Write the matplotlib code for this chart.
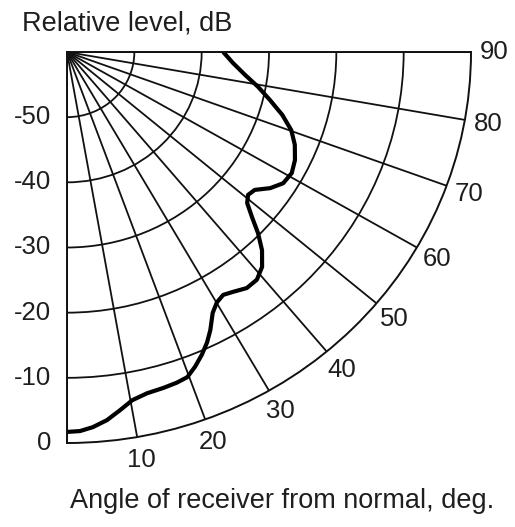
import numpy as np
import matplotlib.pyplot as plt

plt.rcParams['font.family'] = ['Liberation Sans', 'DejaVu Sans']

# curve: angle from normal (deg) and relative level (dB)
angle_deg = [0, 1.9, 3.8, 6.0, 8.2, 10.3, 12.8, 15.5, 17.8, 19.7, 21.5, 23.3,
             25.0, 26.5, 28.4, 30.1, 31.9, 33.8, 36.4, 38.9, 41.3, 43.6, 45.6,
             47.3, 49.1, 50.8, 52.8, 55.3, 57.9, 60.9, 63.9, 67.2, 70.2, 73.2,
             76.3, 79.3, 82.4, 86.1, 90.0]
level_db = [-1.7, -1.8, -2.3, -3.2, -4.5, -5.7, -6.3, -6.5, -6.7, -7.0, -8.1, -9.4,
            -10.8, -12.3, -14.5, -15.6, -16.1, -15.7, -15.0, -15.1, -16.1, -18.0, -20.3,
            -22.6, -24.6, -25.3, -25.0, -23.3, -22.1, -21.8, -22.3, -23.3, -24.6, -26.6,
            -29.0, -31.1, -33.3, -35.3, -36.8]

angle_ticks = [0, 10, 20, 30, 40, 50, 60, 70, 80, 90]
angle_labels = ['', '10', '20', '30', '40', '50', '60', '70', '80', '90']
level_ticks = [-50, -40, -30, -20, -10, 0]

fig = plt.figure(figsize=(5.15, 5.27), dpi=100)
ax = fig.add_axes([67/515, 84/527, 404/515, 391/527], projection='polar')
ax.set_theta_zero_location('S')
ax.set_theta_direction(1)
ax.set_thetamin(0)
ax.set_thetamax(90)
ax.set_ylim(-60, 0)
ax.set_aspect('auto')

ax.set_thetagrids(angle_ticks, angle_labels)
ax.set_rgrids(level_ticks[:-1], labels=[])
ax.grid(True, color='#111111', linewidth=1.3)
for sp in ax.spines.values():
    sp.set_color('#111111')
    sp.set_linewidth(1.4)
ax.tick_params(axis='x', length=0, pad=10, labelsize=18.5, labelcolor='#1e1e1e')
ax.tick_params(axis='y', length=0)

for lev in level_ticks:
    ax.annotate(str(lev), xy=(0, lev), xytext=(-16, 0), textcoords='offset pixels',
                ha='right', va='center', fontsize=18.5, color='#1e1e1e')

ax.plot(np.deg2rad(angle_deg), level_db, color='black', linewidth=3.0,
        solid_joinstyle='round', solid_capstyle='butt')

fig.text(22/515, 1 - 23/527, 'Relative level, dB', ha='left', va='center',
         fontsize=19.5, color='#1e1e1e')
fig.text(70/515, 1 - 501/527, 'Angle of receiver from normal, deg.', ha='left',
         va='center', fontsize=19.5, color='#1e1e1e')

fig.savefig('out.png', dpi=100)
